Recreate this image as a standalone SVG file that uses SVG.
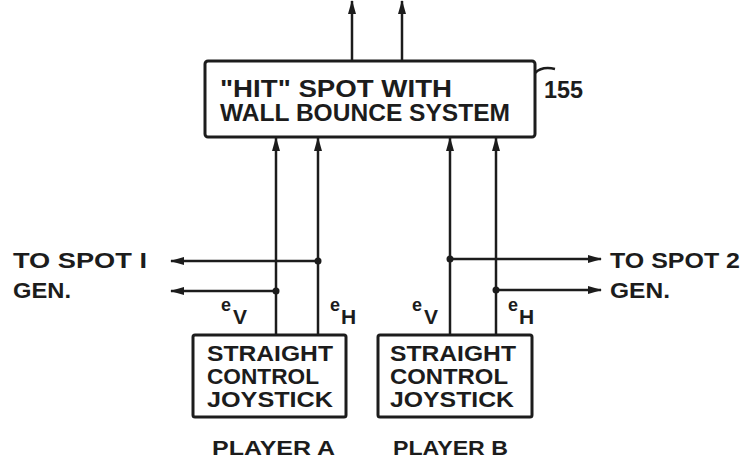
<svg xmlns="http://www.w3.org/2000/svg" width="754" height="463" viewBox="0 0 754 463">
<defs>
<marker id="ah" viewBox="0 0 14 10" refX="13" refY="5" markerWidth="14" markerHeight="10" markerUnits="userSpaceOnUse" orient="auto">
<path d="M0,1 L14,5 L0,9 Z" fill="#1c1c1c"/>
</marker>
<style>
.ln{stroke:#1c1c1c;stroke-width:2.5;fill:none}
.bx{stroke:#1c1c1c;stroke-width:3;fill:none}
.t{font-family:"Liberation Sans","DejaVu Sans",sans-serif;fill:#1c1c1c;font-weight:bold}
.dot{fill:#1c1c1c}
</style>
</defs>
<rect width="754" height="463" fill="#ffffff"/>
<g id="hit-system">
<rect class="bx" x="205" y="61" width="330" height="76" rx="3"/>
<text class="t" x="220" y="97" font-size="23" textLength="232" lengthAdjust="spacingAndGlyphs">"HIT" SPOT  WITH</text>
<text class="t" x="220" y="121" font-size="23" textLength="290" lengthAdjust="spacingAndGlyphs">WALL BOUNCE SYSTEM</text>
<path class="ln" d="M535,73 Q542,66 555,69"/>
<text class="t" x="544" y="98" font-size="23" textLength="39" lengthAdjust="spacingAndGlyphs">155</text>
</g>
<g id="joystick-a">
<rect class="bx" x="193" y="335" width="153" height="82" rx="2"/>
<text class="t" x="207" y="361" font-size="22" textLength="126" lengthAdjust="spacingAndGlyphs">STRAIGHT</text>
<text class="t" x="207" y="384" font-size="22" textLength="112" lengthAdjust="spacingAndGlyphs">CONTROL</text>
<text class="t" x="207" y="407" font-size="22" textLength="126" lengthAdjust="spacingAndGlyphs">JOYSTICK</text>
<text class="t" x="212" y="455" font-size="21" textLength="123" lengthAdjust="spacingAndGlyphs">PLAYER  A</text>
</g>
<g id="joystick-b">
<rect class="bx" x="378" y="335" width="154" height="82" rx="2"/>
<text class="t" x="390" y="361" font-size="22" textLength="126" lengthAdjust="spacingAndGlyphs">STRAIGHT</text>
<text class="t" x="390" y="384" font-size="22" textLength="118" lengthAdjust="spacingAndGlyphs">CONTROL</text>
<text class="t" x="390" y="407" font-size="22" textLength="124" lengthAdjust="spacingAndGlyphs">JOYSTICK</text>
<text class="t" x="393" y="455" font-size="21" textLength="115" lengthAdjust="spacingAndGlyphs">PLAYER B</text>
</g>
<g id="outputs">
<text class="t" x="13" y="268" font-size="22" textLength="134" lengthAdjust="spacingAndGlyphs">TO SPOT I</text>
<text class="t" x="13" y="298" font-size="22" textLength="58" lengthAdjust="spacingAndGlyphs">GEN.</text>
<text class="t" x="610" y="268" font-size="22" textLength="130" lengthAdjust="spacingAndGlyphs">TO SPOT 2</text>
<text class="t" x="610" y="298" font-size="22" textLength="60" lengthAdjust="spacingAndGlyphs">GEN.</text>
</g>
<g id="labels">
<text class="t" x="221" y="311" font-size="18">e<tspan x="233" y="324" font-size="21">V</tspan></text>
<text class="t" x="330" y="311" font-size="18">e<tspan x="341" y="324" font-size="21">H</tspan></text>
<text class="t" x="412" y="311" font-size="18">e<tspan x="424" y="324" font-size="21">V</tspan></text>
<text class="t" x="508" y="311" font-size="18">e<tspan x="519" y="324" font-size="21">H</tspan></text>
</g>
<g id="connectors">
<line class="ln" x1="352" y1="61" x2="352" y2="1" marker-end="url(#ah)"/>
<line class="ln" x1="402" y1="61" x2="402" y2="1" marker-end="url(#ah)"/>
<line class="ln" x1="276" y1="335" x2="276" y2="138" marker-end="url(#ah)"/>
<line class="ln" x1="318" y1="335" x2="318" y2="138" marker-end="url(#ah)"/>
<line class="ln" x1="450" y1="335" x2="450" y2="138" marker-end="url(#ah)"/>
<line class="ln" x1="496" y1="335" x2="496" y2="138" marker-end="url(#ah)"/>
<line class="ln" x1="318" y1="261" x2="171" y2="261" marker-end="url(#ah)"/>
<line class="ln" x1="276" y1="291" x2="171" y2="291" marker-end="url(#ah)"/>
<line class="ln" x1="450" y1="259" x2="601" y2="259" marker-end="url(#ah)"/>
<line class="ln" x1="496" y1="290" x2="601" y2="290" marker-end="url(#ah)"/>
<circle class="dot" cx="318" cy="261" r="3.5"/>
<circle class="dot" cx="276" cy="291" r="3.5"/>
<circle class="dot" cx="450" cy="259" r="3.5"/>
<circle class="dot" cx="496" cy="290" r="3.5"/>
</g>
</svg>
